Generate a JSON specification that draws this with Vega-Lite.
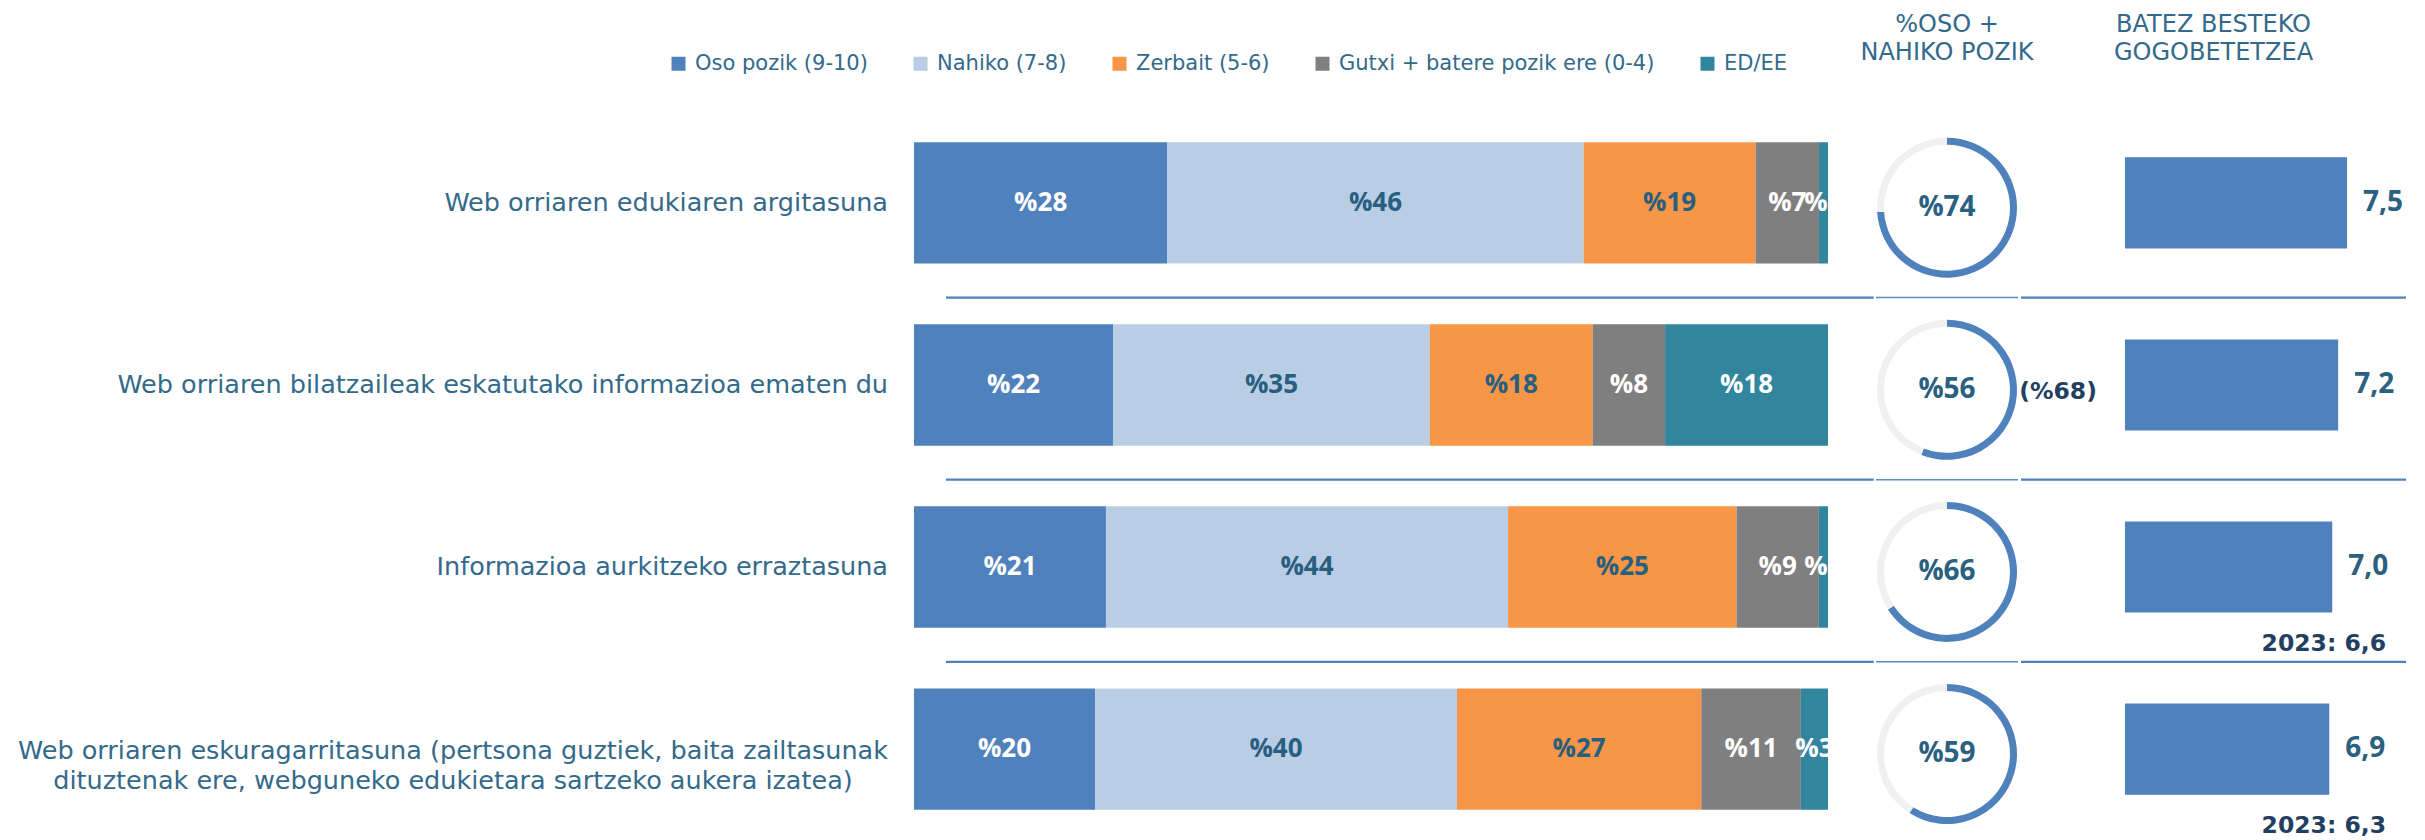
{
  "$schema": "https://vega.github.io/schema/vega-lite/v6.json",
  "background": "white",
  "padding": {"left": 17, "top": 12, "right": 10, "bottom": 0},
  "autosize": {"type": "pad"},
  "bounds": "flush",
  "spacing": 48,
  "resolve": {"scale": {"color": "independent"}},
  "datasets": {
    "segments": [
      {"item": "Web orriaren edukiaren argitasuna", "maila": "Oso pozik (9-10)", "pct": 28},
      {"item": "Web orriaren edukiaren argitasuna", "maila": "Nahiko (7-8)", "pct": 46},
      {"item": "Web orriaren edukiaren argitasuna", "maila": "Zerbait (5-6)", "pct": 19},
      {"item": "Web orriaren edukiaren argitasuna", "maila": "Gutxi + batere pozik ere (0-4)", "pct": 7},
      {"item": "Web orriaren edukiaren argitasuna", "maila": "ED/EE", "pct": 1},
      {"item": "Web orriaren bilatzaileak eskatutako informazioa ematen du", "maila": "Oso pozik (9-10)", "pct": 22},
      {"item": "Web orriaren bilatzaileak eskatutako informazioa ematen du", "maila": "Nahiko (7-8)", "pct": 35},
      {"item": "Web orriaren bilatzaileak eskatutako informazioa ematen du", "maila": "Zerbait (5-6)", "pct": 18},
      {"item": "Web orriaren bilatzaileak eskatutako informazioa ematen du", "maila": "Gutxi + batere pozik ere (0-4)", "pct": 8},
      {"item": "Web orriaren bilatzaileak eskatutako informazioa ematen du", "maila": "ED/EE", "pct": 18},
      {"item": "Informazioa aurkitzeko erraztasuna", "maila": "Oso pozik (9-10)", "pct": 21},
      {"item": "Informazioa aurkitzeko erraztasuna", "maila": "Nahiko (7-8)", "pct": 44},
      {"item": "Informazioa aurkitzeko erraztasuna", "maila": "Zerbait (5-6)", "pct": 25},
      {"item": "Informazioa aurkitzeko erraztasuna", "maila": "Gutxi + batere pozik ere (0-4)", "pct": 9},
      {"item": "Informazioa aurkitzeko erraztasuna", "maila": "ED/EE", "pct": 1},
      {"item": "Web orriaren eskuragarritasuna (pertsona guztiek, baita zailtasunak\ndituztenak ere, webguneko edukietara sartzeko aukera izatea)", "maila": "Oso pozik (9-10)", "pct": 20},
      {"item": "Web orriaren eskuragarritasuna (pertsona guztiek, baita zailtasunak\ndituztenak ere, webguneko edukietara sartzeko aukera izatea)", "maila": "Nahiko (7-8)", "pct": 40},
      {"item": "Web orriaren eskuragarritasuna (pertsona guztiek, baita zailtasunak\ndituztenak ere, webguneko edukietara sartzeko aukera izatea)", "maila": "Zerbait (5-6)", "pct": 27},
      {"item": "Web orriaren eskuragarritasuna (pertsona guztiek, baita zailtasunak\ndituztenak ere, webguneko edukietara sartzeko aukera izatea)", "maila": "Gutxi + batere pozik ere (0-4)", "pct": 11},
      {"item": "Web orriaren eskuragarritasuna (pertsona guztiek, baita zailtasunak\ndituztenak ere, webguneko edukietara sartzeko aukera izatea)", "maila": "ED/EE", "pct": 3}
    ],
    "rows": [
      {"item": "Web orriaren edukiaren argitasuna", "mean": 7.5, "prev_label": null, "sep": true},
      {"item": "Web orriaren bilatzaileak eskatutako informazioa ematen du", "mean": 7.2, "prev_label": null, "sep": true},
      {"item": "Informazioa aurkitzeko erraztasuna", "mean": 7.0, "prev_label": "2023: 6,6", "sep": true},
      {"item": "Web orriaren eskuragarritasuna (pertsona guztiek, baita zailtasunak\ndituztenak ere, webguneko edukietara sartzeko aukera izatea)", "mean": 6.9, "prev_label": "2023: 6,3", "sep": false}
    ],
    "donut": [
      {"item": "Web orriaren edukiaren argitasuna", "part": "pozik", "value": 74, "prev_label": null},
      {"item": "Web orriaren edukiaren argitasuna", "part": "gainerakoa", "value": 26, "prev_label": null},
      {"item": "Web orriaren bilatzaileak eskatutako informazioa ematen du", "part": "pozik", "value": 56, "prev_label": "(%68)"},
      {"item": "Web orriaren bilatzaileak eskatutako informazioa ematen du", "part": "gainerakoa", "value": 44, "prev_label": null},
      {"item": "Informazioa aurkitzeko erraztasuna", "part": "pozik", "value": 66, "prev_label": null},
      {"item": "Informazioa aurkitzeko erraztasuna", "part": "gainerakoa", "value": 34, "prev_label": null},
      {"item": "Web orriaren eskuragarritasuna (pertsona guztiek, baita zailtasunak\ndituztenak ere, webguneko edukietara sartzeko aukera izatea)", "part": "pozik", "value": 59, "prev_label": null},
      {"item": "Web orriaren eskuragarritasuna (pertsona guztiek, baita zailtasunak\ndituztenak ere, webguneko edukietara sartzeko aukera izatea)", "part": "gainerakoa", "value": 41, "prev_label": null}
    ]
  },
  "hconcat": [
    {
      "width": 914,
      "height": 726,
      "layer": [
        {
          "data": {"name": "segments"},
          "transform": [{"stack": "pct", "groupby": ["item"], "offset": "normalize", "as": ["x0", "x1"]}],
          "mark": {"type": "bar"},
          "encoding": {
            "y": {"field": "item", "type": "nominal", "axis": null, "scale": {"domain": ["Web orriaren edukiaren argitasuna", "Web orriaren bilatzaileak eskatutako informazioa ematen du", "Informazioa aurkitzeko erraztasuna", "Web orriaren eskuragarritasuna (pertsona guztiek, baita zailtasunak\ndituztenak ere, webguneko edukietara sartzeko aukera izatea)"], "paddingInner": 0.333, "paddingOuter": 0.16}},
            "x": {"field": "x0", "type": "quantitative", "axis": null, "scale": {"domain": [0, 1], "nice": false, "zero": false}},
            "x2": {"field": "x1"},
            "color": {
              "field": "maila", "type": "nominal",
              "scale": {"domain": ["Oso pozik (9-10)", "Nahiko (7-8)", "Zerbait (5-6)", "Gutxi + batere pozik ere (0-4)", "ED/EE"], "range": ["#4f81bd", "#b9cde5", "#f79646", "#7f7f7f", "#31859c"]},
              "legend": {
                "title": null, "orient": "none", "legendX": -246, "legendY": -60, "direction": "horizontal", "columns": 5,
                "symbolType": "square", "symbolSize": 196, "symbolStrokeWidth": 0, "labelFont": "DejaVu Sans", "labelFontSize": 21,
                "labelColor": "#336a8b", "labelOffset": 6, "columnPadding": 42, "labelLimit": 600, "padding": 0
              }
            }
          }
        },
        {
          "data": {"name": "segments"},
          "transform": [
            {"stack": "pct", "groupby": ["item"], "offset": "normalize", "as": ["x0", "x1"]},
            {"fold": ["x0", "x1"], "as": ["edge", "pos"]},
            {"aggregate": [{"op": "mean", "field": "pos", "as": "mid"}], "groupby": ["item", "maila", "pct"]}
          ],
          "mark": {"type": "text", "clip": true, "font": "Open Sans", "fontWeight": "bold", "fontSize": 26, "baseline": "middle", "align": "center"},
          "encoding": {
            "y": {"field": "item", "type": "nominal"},
            "x": {"field": "mid", "type": "quantitative"},
            "text": {"field": "pct", "type": "quantitative", "format": "$d"},
            "color": {"condition": {"test": "datum.maila == 'Nahiko (7-8)' || datum.maila == 'Zerbait (5-6)'", "value": "#285e7f"}, "value": "#ffffff"}
          }
        },
        {
          "data": {"name": "rows"},
          "transform": [{"filter": "indexof(datum.item, '\\n') < 0"}],
          "mark": {"type": "text", "align": "right", "baseline": "middle", "dx": -26, "font": "DejaVu Sans", "fontSize": 25.5, "color": "#336a8b"},
          "encoding": {
            "y": {"field": "item", "type": "nominal"},
            "x": {"datum": 0, "type": "quantitative"},
            "text": {"field": "item", "type": "nominal"}
          }
        },
        {
          "data": {"name": "rows"},
          "transform": [{"filter": "indexof(datum.item, '\\n') >= 0"}],
          "mark": {"type": "text", "align": "center", "baseline": "middle", "dx": -461, "dy": 2, "font": "DejaVu Sans", "fontSize": 25.5, "lineHeight": 30, "lineBreak": "\n", "color": "#336a8b"},
          "encoding": {
            "y": {"field": "item", "type": "nominal"},
            "x": {"datum": 0, "type": "quantitative"},
            "text": {"field": "item", "type": "nominal"}
          }
        },
        {
          "data": {"name": "rows"},
          "transform": [{"filter": "datum.sep"}],
          "mark": {"type": "rule", "color": "#4f81bd", "strokeWidth": 2.2},
          "encoding": {
            "y": {"field": "item", "type": "nominal", "bandPosition": 1.28},
            "x": {"datum": 0.035, "type": "quantitative"},
            "x2": {"datum": 1.05}
          }
        }
      ]
    },
    {
      "bounds": "flush",
      "spacing": 3,
      "hconcat": [
        {
          "width": 142,
          "height": 726,
          "title": {"text": ["%OSO +", "NAHIKO POZIK"], "anchor": "middle", "font": "DejaVu Sans", "fontSize": 24, "fontWeight": "normal", "color": "#336a8b", "lineHeight": 28, "baseline": "bottom", "offset": 24.5},
          "layer": [
            {
              "data": {"name": "donut"},
              "transform": [{"stack": "value", "groupby": ["item"], "sort": [{"field": "part", "order": "descending"}], "as": ["t0", "t1"]}],
              "mark": {"type": "arc", "outerRadius": 70, "innerRadius": 63},
              "encoding": {
                "y": {"field": "item", "type": "nominal", "axis": null, "bandPosition": 0.54, "scale": {"domain": ["Web orriaren edukiaren argitasuna", "Web orriaren bilatzaileak eskatutako informazioa ematen du", "Informazioa aurkitzeko erraztasuna", "Web orriaren eskuragarritasuna (pertsona guztiek, baita zailtasunak\ndituztenak ere, webguneko edukietara sartzeko aukera izatea)"], "paddingInner": 0.333, "paddingOuter": 0.16}},
                "theta": {"field": "t0", "type": "quantitative", "scale": {"domain": [0, 100]}},
                "theta2": {"field": "t1"},
                "color": {"condition": {"test": "datum.part == 'pozik'", "value": "#4f81bd"}, "value": "#f0f0f0"}
              }
            },
            {
              "data": {"name": "donut"},
              "transform": [{"filter": "datum.part == 'pozik'"}],
              "mark": {"type": "text", "font": "Open Sans", "fontWeight": "bold", "fontSize": 28, "baseline": "middle", "align": "center", "color": "#2a6080"},
              "encoding": {
                "y": {"field": "item", "type": "nominal", "bandPosition": 0.54},
                "text": {"field": "value", "type": "quantitative", "format": "$d"}
              }
            },
            {
              "data": {"name": "donut"},
              "transform": [{"filter": "isValid(datum.prev_label)"}],
              "mark": {"type": "text", "font": "DejaVu Sans", "fontWeight": "bold", "fontSize": 23.5, "baseline": "middle", "align": "center", "dx": 111, "color": "#223f61"},
              "encoding": {
                "y": {"field": "item", "type": "nominal", "bandPosition": 0.56},
                "text": {"field": "prev_label", "type": "nominal"}
              }
            },
            {
              "data": {"name": "rows"},
              "transform": [{"filter": "datum.sep"}],
              "mark": {"type": "rule", "color": "#5b8ac4", "strokeWidth": 1.5},
              "encoding": {
                "y": {"field": "item", "type": "nominal", "bandPosition": 1.28}
              }
            }
          ]
        },
        {
          "width": 385,
          "height": 726,
          "title": {"text": ["BATEZ BESTEKO", "GOGOBETETZEA"], "anchor": "middle", "font": "DejaVu Sans", "fontSize": 24, "fontWeight": "normal", "color": "#336a8b", "lineHeight": 28, "baseline": "bottom", "offset": 24.5},
          "layer": [
            {
              "data": {"name": "rows"},
              "mark": {"type": "bar", "color": "#4f81bd", "height": {"band": 0.75}},
              "encoding": {
                "y": {"field": "item", "type": "nominal", "axis": null, "scale": {"domain": ["Web orriaren edukiaren argitasuna", "Web orriaren bilatzaileak eskatutako informazioa ematen du", "Informazioa aurkitzeko erraztasuna", "Web orriaren eskuragarritasuna (pertsona guztiek, baita zailtasunak\ndituztenak ere, webguneko edukietara sartzeko aukera izatea)"], "paddingInner": 0.333, "paddingOuter": 0.16}},
                "x": {"field": "mean", "type": "quantitative", "axis": null, "scale": {"domain": [-3.51, 9.49], "nice": false}}
              }
            },
            {
              "data": {"name": "rows"},
              "mark": {"type": "text", "font": "Open Sans", "fontWeight": "bold", "fontSize": 28, "baseline": "middle", "align": "left", "dx": 16, "color": "#2a6080"},
              "encoding": {
                "y": {"field": "item", "type": "nominal"},
                "x": {"field": "mean", "type": "quantitative"},
                "text": {"field": "mean", "type": "quantitative", "format": ".1f"}
              }
            },
            {
              "data": {"name": "rows"},
              "transform": [{"filter": "isValid(datum.prev_label)"}],
              "mark": {"type": "text", "font": "DejaVu Sans", "fontWeight": "bold", "fontSize": 23.5, "baseline": "middle", "align": "right", "color": "#223f61"},
              "encoding": {
                "y": {"field": "item", "type": "nominal", "bandPosition": 1.13},
                "x": {"datum": 8.82, "type": "quantitative"},
                "text": {"field": "prev_label", "type": "nominal"}
              }
            },
            {
              "data": {"name": "rows"},
              "transform": [{"filter": "datum.sep"}],
              "mark": {"type": "rule", "color": "#4f81bd", "strokeWidth": 2.2},
              "encoding": {
                "y": {"field": "item", "type": "nominal", "bandPosition": 1.28}
              }
            }
          ]
        }
      ]
    }
  ],
  "config": {
    "view": {"stroke": null},
    "locale": {"number": {"decimal": ",", "thousands": ".", "grouping": [3], "currency": ["%", ""]}}
  }
}
